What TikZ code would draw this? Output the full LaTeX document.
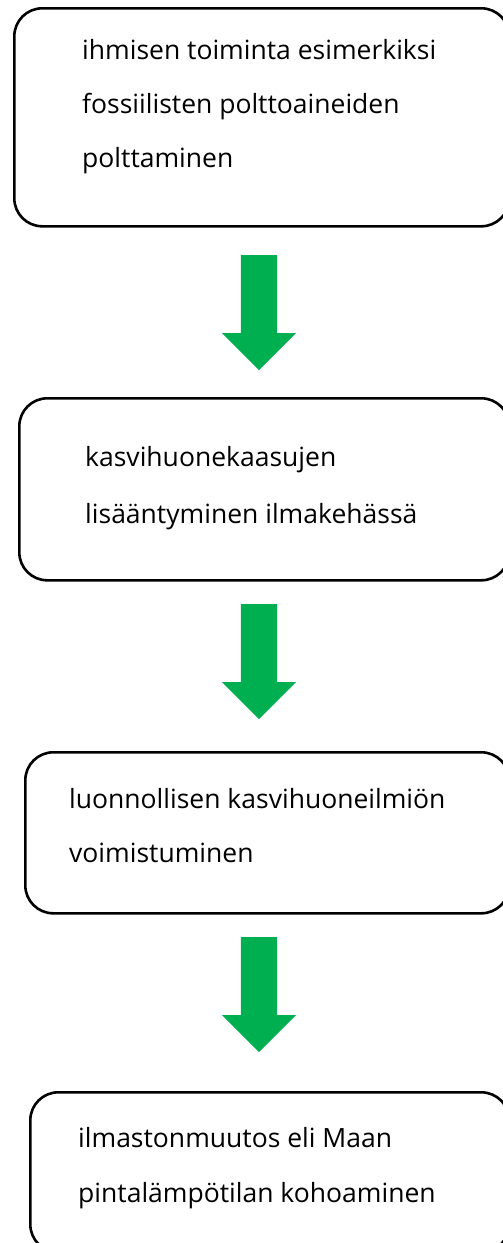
\documentclass[tikz,border=0pt]{standalone}
\usepackage{fontspec}
\setmainfont{Open Sans}
\usetikzlibrary{shapes.arrows}

\definecolor{flowgreen}{HTML}{00B050}

\begin{document}
\begin{tikzpicture}[x=1pt, y=-1pt,
    every node/.style={font=\fontsize{26.5}{54}\selectfont},
    stage/.style={draw, line width=2.6pt, rounded corners=28pt, anchor=north west, inner sep=0pt},
    stagetext/.style={anchor=base west, align=left, inner sep=0pt},
    downarrow/.style={shape=single arrow, fill=flowgreen, draw=none, rotate=-90, anchor=tail,
        minimum height=115pt, minimum width=0pt, inner xsep=0pt, inner ysep=18pt,
        single arrow head extend=19pt, single arrow head indent=0pt, single arrow tip angle=90}]
    \useasboundingbox (0,0) rectangle (503,1243);
    \node[stage, minimum width=495pt, minimum height=218pt] (cause) at (13,7) {};
    \node[stage, minimum width=490pt, minimum height=182pt] (gases) at (18,397) {};
    \node[stage, minimum width=484pt, minimum height=161pt] (effect) at (24,751) {};
    \node[stage, minimum width=479pt, minimum height=160pt] (change) at (29,1091) {};
    % text blocks sit on the baseline of their last line
    \node[stagetext] (causetext) at (82,167) {ihmisen toiminta esimerkiksi\\fossiilisten polttoaineiden\\polttaminen};
    \node[stagetext, font=\fontsize{26.5}{57}\selectfont] (gasestext) at (85,523) {kasvihuonekaasujen\\lisääntyminen ilmakehässä};
    \node[stagetext] (effecttext) at (69,862) {luonnollisen kasvihuoneilmiön\\voimistuminen};
    \node[stagetext, font=\fontsize{26.5}{55}\selectfont] (changetext) at (78,1202) {ilmastonmuutos eli Maan\\pintalämpötilan kohoaminen};
    \node[downarrow] (step1) at (259,255) {};
    \node[downarrow] (step2) at (259,604) {};
    \node[downarrow] (step3) at (259,937) {};
\end{tikzpicture}
\end{document}
